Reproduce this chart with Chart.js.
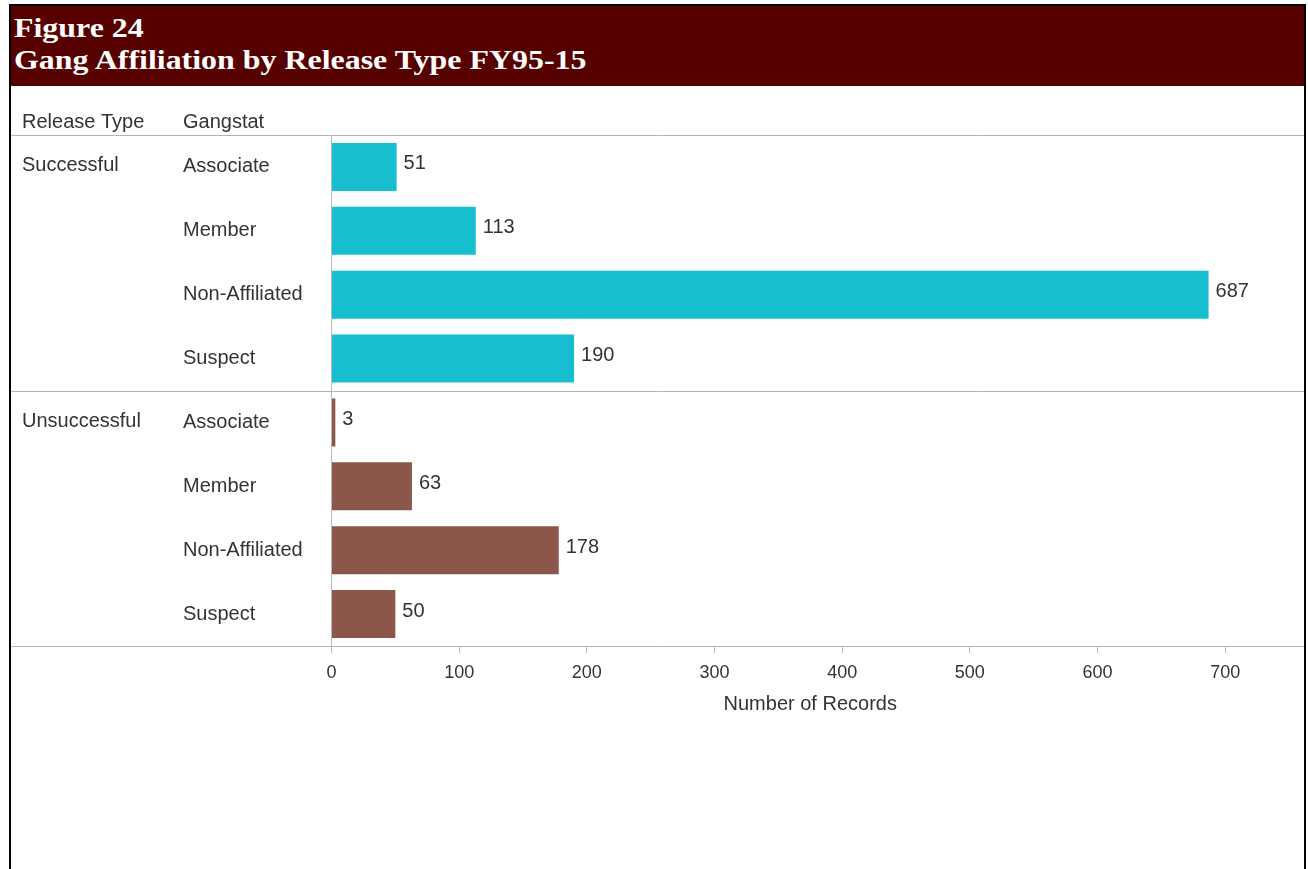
<!DOCTYPE html>
<html>
<head>
<meta charset="utf-8">
<title>Figure 24 - Gang Affiliation by Release Type FY95-15</title>
<script src="https://cdn.jsdelivr.net/npm/chart.js@4.4.1/dist/chart.umd.min.js"></script>
<style>
    html, body { margin: 0; padding: 0; background: #fff; }
    body { width: 1308px; height: 869px; overflow: hidden; position: relative; }
    .frame {
        position: absolute; left: 9px; top: 4px; width: 1293px; height: 900px;
        border: 2px solid #000; border-bottom: none;
    }
    .header {
        background: #560000; height: 80px; padding: 6px 0 0 3px; box-sizing: border-box;
        color: #fff; font-family: "Liberation Serif", "Times New Roman", serif;
        font-weight: bold; font-size: 28px; line-height: 32px;
    }
    .header span { display: inline-block; transform: scaleX(1.14); transform-origin: left center; }
    .chart-wrap { position: absolute; left: 0; top: 0; width: 1308px; height: 869px; }
</style>
</head>
<body>
<div class="frame">
    <div class="header">
        <span>Figure 24</span><br>
        <span>Gang Affiliation by Release Type FY95-15</span>
    </div>
</div>
<div class="chart-wrap">
    <canvas id="gangChart" width="1308" height="869"></canvas>
</div>

<script>
// Chart data
const releaseTypes = ['Successful', 'Unsuccessful'];
const gangstats = ['Associate', 'Member', 'Non-Affiliated', 'Suspect'];
const successfulCounts = [51, 113, 687, 190];
const unsuccessfulCounts = [3, 63, 178, 50];
const xTicks = [0, 100, 200, 300, 400, 500, 600, 700];
const releaseColors = ['#17BECF', '#8C564B'];

const FONT = '"Liberation Sans", Arial, sans-serif';
const TEXT_COLOR = '#333';

// Flatten the two release groups into one list of rows
const rowLabels = [...gangstats, ...gangstats];
const rowValues = [...successfulCounts, ...unsuccessfulCounts];
const rowColors = rowValues.map((v, i) => releaseColors[Math.floor(i / gangstats.length)]);

// Draws the table-like pieces: column headers, release type labels, separators, value labels
const tableDecor = {
    id: 'tableDecor',
    afterDraw(chart) {
        const { ctx, chartArea, scales: { y } } = chart;
        ctx.save();

        // horizontal separators
        const groupBreak = (y.getPixelForValue(gangstats.length - 1) + y.getPixelForValue(gangstats.length)) / 2;
        ctx.strokeStyle = '#b4b4b4';
        ctx.lineWidth = 1;
        [chartArea.top, groupBreak, chartArea.bottom].forEach(py => {
            const yy = Math.round(py) + 0.5;
            ctx.beginPath();
            ctx.moveTo(11, yy);
            ctx.lineTo(1304, yy);
            ctx.stroke();
        });

        ctx.font = '20px ' + FONT;
        ctx.fillStyle = TEXT_COLOR;
        ctx.textBaseline = 'middle';
        ctx.textAlign = 'left';

        // column headers
        ctx.fillText('Release Type', 22, chartArea.top - 13);
        ctx.fillText('Gangstat', y.left, chartArea.top - 13);

        // release type labels next to the first row of each group
        releaseTypes.forEach((rt, g) => {
            ctx.fillText(rt, 22, y.getPixelForValue(g * gangstats.length) - 1);
        });

        // value labels at bar ends
        chart.getDatasetMeta(0).data.forEach((bar, i) => {
            ctx.fillText(rowValues[i], bar.x + 7, bar.y - 3);
        });

        ctx.restore();
    }
};

function initializeChart() {
    const ctx = document.getElementById('gangChart').getContext('2d');

    new Chart(ctx, {
        type: 'bar',
        data: {
            labels: rowLabels,
            datasets: [{
                data: rowValues,
                backgroundColor: rowColors,
                barPercentage: 0.75,
                categoryPercentage: 1
            }]
        },
        options: {
            indexAxis: 'y',
            responsive: false,
            animation: false,
            layout: { padding: { left: 183, right: 19, top: 135, bottom: 143 } },
            plugins: {
                legend: { display: false },
                tooltip: { enabled: false }
            },
            scales: {
                x: {
                    min: 0,
                    max: 750,
                    afterBuildTicks: scale => {
                        scale.ticks = xTicks.map(v => ({ value: v }));
                    },
                    afterFit: scale => { scale.height = 80; },
                    ticks: {
                        font: { family: FONT, size: 18 },
                        color: TEXT_COLOR,
                        padding: 9,
                        maxRotation: 0
                    },
                    grid: { drawOnChartArea: false, tickLength: 7, color: '#bbb' },
                    border: { display: false },
                    title: {
                        display: true,
                        text: 'Number of Records',
                        font: { family: FONT, size: 20 },
                        color: TEXT_COLOR,
                        padding: { top: 4, bottom: 10 }
                    }
                },
                y: {
                    afterFit: scale => { scale.width = 148.5; },
                    ticks: {
                        crossAlign: 'far',
                        font: { family: FONT, size: 20 },
                        color: TEXT_COLOR
                    },
                    grid: { display: false },
                    border: { display: true, color: '#bbb' }
                }
            }
        },
        plugins: [tableDecor]
    });
}

document.addEventListener('DOMContentLoaded', initializeChart);
</script>
</body>
</html>
